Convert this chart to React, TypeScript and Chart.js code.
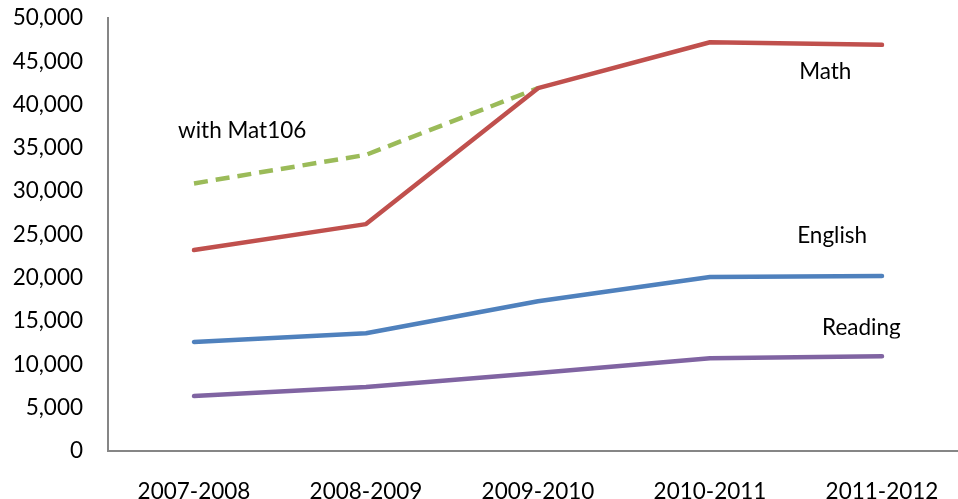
import React, { useEffect, useRef } from "react";
import { Chart, registerables } from "chart.js";

Chart.register(...registerables);

const categories = ["2007-2008", "2008-2009", "2009-2010", "2010-2011", "2011-2012"];
const mathValues = [23200, 26200, 41900, 47200, 46900];
const mat106Values = [30900, 34200, 41900, null, null];
const englishValues = [12600, 13600, 17300, 20100, 20200];
const readingValues = [6350, 7400, 9000, 10700, 10950];
const yTicks = [0, 5000, 10000, 15000, 20000, 25000, 30000, 35000, 40000, 45000, 50000];

const seriesLabels = [
  { text: "with Mat106", x: 0.28, y: 37000, clipBelow: null as number | null },
  { text: "Math", x: 3.67, y: 43800, clipBelow: null as number | null },
  { text: "English", x: 3.71, y: 24900, clipBelow: null as number | null },
  { text: "Reading", x: 3.88, y: 14200, clipBelow: 13000 as number | null },
];

const FONT = "Lato, 'Open Sans', sans-serif";
const FONT_SIZE = 22.5;

const labelPlugin = {
  id: "seriesLabels",
  afterDatasetsDraw(chart: any) {
    const { ctx, scales } = chart;
    for (const l of seriesLabels) {
      ctx.save();
      ctx.font = `${FONT_SIZE}px ${FONT}`;
      ctx.fillStyle = "#000";
      ctx.textAlign = "center";
      ctx.textBaseline = "middle";
      if (l.clipBelow !== null) {
        const yb = scales.y.getPixelForValue(l.clipBelow);
        ctx.beginPath();
        ctx.rect(0, 0, chart.width, yb);
        ctx.clip();
      }
      ctx.fillText(l.text, scales.x.getPixelForValue(l.x), scales.y.getPixelForValue(l.y));
      ctx.restore();
    }
  },
};

export default function App() {
  const ref = useRef<HTMLCanvasElement>(null);
  useEffect(() => {
    if (!ref.current) return;
    const chart = new Chart(ref.current, {
      type: "line",
      data: {
        labels: categories,
        datasets: [
          { label: "Math", data: mathValues, borderColor: "#C0504D", borderWidth: 4.5, pointRadius: 0, tension: 0, borderCapStyle: "round", borderJoinStyle: "round" },
          { label: "with Mat106", data: mat106Values, borderColor: "#9BBB59", borderWidth: 4.5, borderDash: [14, 8], pointRadius: 0, tension: 0, spanGaps: false },
          { label: "English", data: englishValues, borderColor: "#4F81BD", borderWidth: 4.5, pointRadius: 0, tension: 0, borderCapStyle: "round", borderJoinStyle: "round" },
          { label: "Reading", data: readingValues, borderColor: "#8064A2", borderWidth: 4.5, pointRadius: 0, tension: 0, borderCapStyle: "round", borderJoinStyle: "round" },
        ],
      },
      options: {
        responsive: false,
        animation: false,
        maintainAspectRatio: false,
        layout: { padding: { top: 18, left: 0, right: 7, bottom: 0 } },
        plugins: { legend: { display: false }, tooltip: { enabled: false } },
        scales: {
          x: {
            offset: true,
            grid: { display: false },
            border: { display: true, color: "#868686", width: 2 },
            ticks: { color: "#000", font: { family: FONT, size: FONT_SIZE }, padding: 19, maxRotation: 0 },
            afterFit: (axis: any) => {
              axis.height = 48;
              axis.paddingLeft = 0;
              axis.paddingRight = 0;
            },
          },
          y: {
            min: 0,
            max: 50000,
            grid: { display: false },
            border: { display: true, color: "#868686", width: 2 },
            afterBuildTicks: (axis: any) => {
              axis.ticks = yTicks.map((v) => ({ value: v }));
            },
            afterFit: (axis: any) => {
              axis.width = 108;
              axis.paddingTop = 0;
              axis.paddingBottom = 0;
            },
            ticks: {
              color: "#000",
              font: { family: FONT, size: FONT_SIZE },
              padding: 17,
              callback: (v: any) => Number(v).toLocaleString("en-US"),
            },
          },
        },
      },
      plugins: [labelPlugin],
    });
    return () => chart.destroy();
  }, []);
  return (
    <div style={{ position: "fixed", left: 0, top: 0, width: 958, height: 499, overflow: "hidden", background: "#fff" }}>
      <canvas ref={ref} width={975} height={499} style={{ display: "block" }} />
    </div>
  );
}
